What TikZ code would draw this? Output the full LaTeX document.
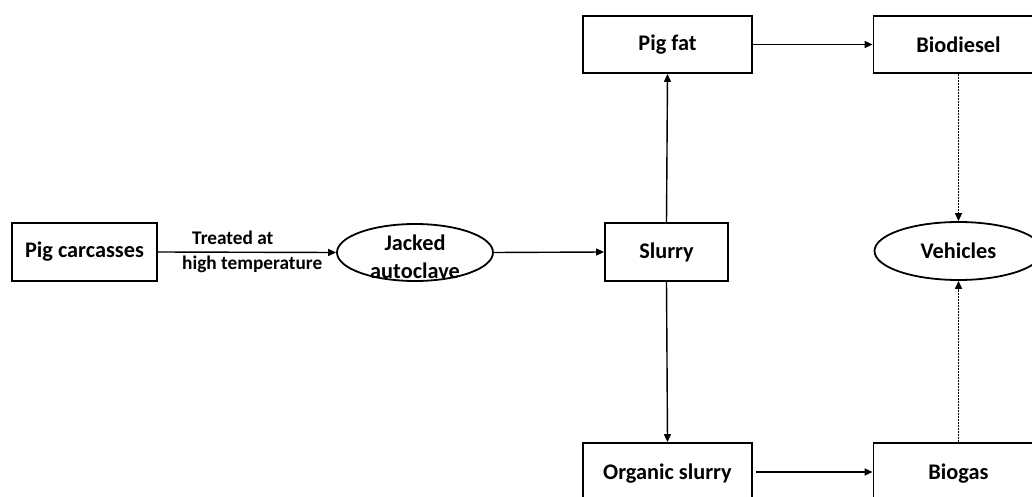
\documentclass[tikz,border=0pt]{standalone}
\usepackage{fontspec}
\setmainfont{Carlito}
\usetikzlibrary{shapes.geometric,arrows.meta}
\begin{document}
\begin{tikzpicture}[x=1pt,y=-1pt,
  every node/.style={font=\bfseries\fontsize{22.3}{26}\selectfont},
  boxnode/.style={draw,line width=1.8pt,rectangle,inner sep=0pt},
  ellnode/.style={draw,line width=1.8pt,ellipse,inner sep=0pt},
  lbl/.style={font=\bfseries\fontsize{19.3}{22}\selectfont,inner sep=0pt,anchor=base west},
  conn/.style={line width=1.4pt,-{Triangle[length=8pt,width=7pt]}},
  dconn/.style={line width=1.3pt,dash pattern=on 2pt off 1pt,-{Triangle[length=8pt,width=7pt]}}
]
\useasboundingbox (0,0) rectangle (1032,497);
\clip (0,0) rectangle (1032,497);
\node[boxnode,minimum width=145pt,minimum height=58pt] (pc) at (84.5,252) {Pig carcasses};
\node[ellnode,minimum width=156pt,minimum height=57pt] (ja) at (415,252.5) {};
\node[inner sep=0pt,anchor=base] (jat1) at (415,250) {Jacked};
\node[inner sep=0pt,anchor=base] (jat2) at (415,278) {autoclave};
\node[boxnode,minimum width=123pt,minimum height=58pt] (sl) at (666.5,252) {Slurry};
\node[boxnode,minimum width=169pt,minimum height=57pt] (pf) at (667.5,44.5) {Pig fat};
\node[boxnode,minimum width=170pt,minimum height=57pt] (bd) at (958.5,44.5) {Biodiesel};
\node[ellnode,minimum width=168pt,minimum height=58pt] (ve) at (958.5,251) {Vehicles};
\node[boxnode,minimum width=169pt,minimum height=62pt] (os) at (667.5,474) {Organic slurry};
\node[boxnode,minimum width=170pt,minimum height=62pt] (bg) at (958.5,474) {Biogas};
\node[lbl] (t1) at (192,244) {Treated at};
\node[lbl] (t2) at (182,269) {high temperature};
\draw[conn] (pc.east) -- (ja.west);
\draw[conn] (ja.east) -- (sl.west);
\draw[conn] (sl.north) -- (pf.south);
\draw[conn] (sl.south) -- (os.north);
\draw[conn] (pf.east) -- (bd.west);
\draw[conn] (os.east |- 0,472) ++(3,0) coordinate (osr) -- (bg.west |- osr);
\draw[dconn] (bd.south) -- (ve.north);
\draw[dconn] (bg.north) -- (ve.south);
\end{tikzpicture}
\end{document}
